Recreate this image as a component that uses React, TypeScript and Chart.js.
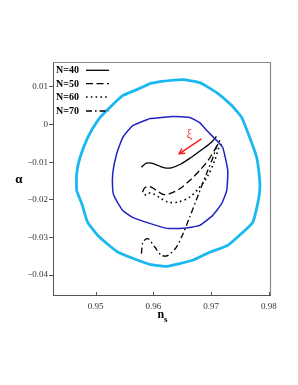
import React, { useEffect, useRef } from "react";
import { Chart, registerables } from "chart.js";

Chart.register(...registerables);

// ---- data ----
const xTicks = [0.95, 0.96, 0.97, 0.98];
const xTickLabels = ["0.95", "0.96", "0.97", "0.98"];
const yTicks = [0.01, 0, -0.01, -0.02, -0.03, -0.04];
const yTickLabels = ["0.01", "0", "\u22120.01", "\u22120.02", "\u22120.03", "\u22120.04"];

const outerNs = [0.95936, 0.96109, 0.96508, 0.96802, 0.97097, 0.97357, 0.9753, 0.97669, 0.9779, 0.97842, 0.97842, 0.97808, 0.97721, 0.9753, 0.97288, 0.96976, 0.96681, 0.96231, 0.95936, 0.95641, 0.95364, 0.95069, 0.94861, 0.94757, 0.94671, 0.94671, 0.94723, 0.94861, 0.95035, 0.95191, 0.95468, 0.95711, 0.95936];
const outerAlpha = [0.01088, 0.01141, 0.01194, 0.01114, 0.00849, 0.00504, 0.00186, -0.00345, -0.00875, -0.01485, -0.01751, -0.02095, -0.02599, -0.02891, -0.0321, -0.03395, -0.03607, -0.03767, -0.03714, -0.03554, -0.03369, -0.02997, -0.02599, -0.02095, -0.01751, -0.013, -0.00902, -0.00345, 0.00106, 0.00371, 0.00769, 0.00928, 0.01088];

const innerNs = [0.95936, 0.96334, 0.96629, 0.96802, 0.96924, 0.97097, 0.97201, 0.97288, 0.9727, 0.97184, 0.97028, 0.96802, 0.96508, 0.96231, 0.95936, 0.95641, 0.95468, 0.95329, 0.95295, 0.95295, 0.95364, 0.95468, 0.95641, 0.95936];
const innerAlpha = [0.00159, 0.00212, 0.00186, 0.00053, -0.00159, -0.00424, -0.0061, -0.0122, -0.01751, -0.02095, -0.02414, -0.02679, -0.02759, -0.02759, -0.02626, -0.02467, -0.02281, -0.01936, -0.01751, -0.013, -0.00769, -0.00345, -0.00027, 0.00159];

const n40Ns = [0.95792, 0.95879, 0.95965, 0.9608, 0.96196, 0.96312, 0.96485, 0.96659, 0.9686, 0.97005, 0.97092];
const n40Alpha = [-0.01133, -0.01027, -0.01027, -0.01088, -0.01149, -0.01149, -0.01042, -0.00867, -0.00645, -0.00469, -0.00318];

const n50Ns = [0.95809, 0.95849, 0.95936, 0.96052, 0.96166, 0.96282, 0.96456, 0.96629, 0.96802, 0.96946, 0.97062, 0.97149];
const n50Alpha = [-0.01796, -0.01679, -0.01645, -0.01751, -0.01857, -0.01838, -0.01706, -0.01485, -0.0122, -0.00955, -0.00671, -0.00424];

const n60Ns = [0.95849, 0.95906, 0.95993, 0.96109, 0.96253, 0.96426, 0.96629, 0.96802, 0.96946, 0.97062, 0.97137, 0.97178];
const n60Alpha = [-0.01883, -0.01822, -0.01838, -0.01944, -0.02061, -0.02061, -0.01928, -0.01663, -0.01353, -0.00955, -0.00602, -0.00512];

const n70Ns = [0.95792, 0.9582, 0.95906, 0.96023, 0.96139, 0.96253, 0.96399, 0.96513, 0.96629, 0.96773, 0.96919, 0.97033, 0.97092, 0.97149];
const n70Alpha = [-0.0343, -0.03122, -0.03032, -0.03255, -0.03475, -0.03475, -0.03255, -0.02899, -0.02459, -0.01883, -0.01308, -0.00867, -0.00602, -0.00424];

const seriesLabels = ["N=40", "N=50", "N=60", "N=70"];
const seriesDashes: number[][] = [[], [7, 3.5], [1.6, 3.2], [6, 3, 1.6, 3]];

const arrowFrom = { x: 0.96832, y: -0.0038 };
const arrowTo = { x: 0.96444, y: -0.00777 };
const arrowLabel = "\u03BE";

const toPts = (xs: number[], ys: number[]) => xs.map((x, i) => ({ x, y: ys[i] }));

const SERIF = "'Liberation Serif', 'Times New Roman', serif";

export default function App() {
  const ref = useRef<HTMLCanvasElement | null>(null);

  useEffect(() => {
    const canvas = ref.current;
    if (!canvas) return;

    const framePlugin = {
      id: "frame",
      beforeDatasetsDraw(chart: any) {
        const { ctx, chartArea: a, scales } = chart;
        ctx.save();
        ctx.strokeStyle = "#8a8a8a";
        ctx.lineWidth = 1.2;
        ctx.beginPath();
        ctx.moveTo(a.left, a.top + 0.5);
        ctx.lineTo(a.right + 0.5, a.top + 0.5);
        ctx.lineTo(a.right + 0.5, a.bottom);
        ctx.stroke();
        // inward x tick marks
        ctx.strokeStyle = "#555";
        ctx.lineWidth = 1;
        ctx.beginPath();
        scales.x.ticks.forEach((t: any) => {
          const px = Math.round(scales.x.getPixelForValue(t.value)) + 0.5;
          ctx.moveTo(px, a.bottom);
          ctx.lineTo(px, a.bottom - 3);
        });
        ctx.stroke();
        ctx.restore();
      },
    };

    const extrasPlugin = {
      id: "extras",
      afterDatasetsDraw(chart: any) {
        const { ctx, chartArea: a, scales } = chart;
        const sx = scales.x, sy = scales.y;
        ctx.save();
        // legend
        const rows = [8.3, 21.6, 35, 49];
        ctx.font = `bold 10px ${SERIF}`;
        ctx.fillStyle = "#000";
        ctx.textBaseline = "middle";
        ctx.textAlign = "left";
        seriesLabels.forEach((lab, i) => {
          const y = a.top + rows[i];
          ctx.fillText(lab, a.left + 3, y + 0.5);
          ctx.beginPath();
          ctx.setLineDash(seriesDashes[i]);
          ctx.strokeStyle = "#000";
          ctx.lineWidth = i === 2 ? 1.6 : 1.3;
          ctx.moveTo(a.left + 33, y);
          ctx.lineTo(a.left + 56, y);
          ctx.stroke();
        });
        ctx.setLineDash([]);
        // arrow
        const x1 = sx.getPixelForValue(arrowFrom.x), y1 = sy.getPixelForValue(arrowFrom.y);
        const x2 = sx.getPixelForValue(arrowTo.x), y2 = sy.getPixelForValue(arrowTo.y);
        ctx.strokeStyle = "#ff1a1a";
        ctx.lineWidth = 1.4;
        ctx.beginPath();
        ctx.moveTo(x1, y1);
        ctx.lineTo(x2, y2);
        const ang = Math.atan2(y2 - y1, x2 - x1);
        const hl = 6;
        ctx.moveTo(x2 - hl * Math.cos(ang - 0.5), y2 - hl * Math.sin(ang - 0.5));
        ctx.lineTo(x2, y2);
        ctx.lineTo(x2 - hl * Math.cos(ang + 0.5), y2 - hl * Math.sin(ang + 0.5));
        ctx.stroke();
        ctx.fillStyle = "#ff1a1a";
        ctx.font = `12px ${SERIF}`;
        ctx.textAlign = "center";
        ctx.fillText(arrowLabel, x1 - 12, y1 - 4);
        // axis titles
        ctx.fillStyle = "#000";
        ctx.font = `bold 13px ${SERIF}`;
        ctx.textAlign = "center";
        ctx.fillText("\u03B1", 19, 180);
        ctx.font = `bold 12px ${SERIF}`;
        ctx.textAlign = "left";
        ctx.fillText("n", 157.5, 315);
        ctx.font = `bold 9px ${SERIF}`;
        ctx.fillText("s", 164, 320);
        ctx.restore();
      },
    };

    const chart = new Chart(canvas, {
      type: "scatter",
      data: {
        datasets: [
          { data: toPts(outerNs, outerAlpha), showLine: true, borderColor: "#1ab8f0", borderWidth: 2.8, pointRadius: 0, tension: 0.15 },
          { data: toPts(innerNs, innerAlpha), showLine: true, borderColor: "#2222c4", borderWidth: 1.5, pointRadius: 0, tension: 0.15 },
          { data: toPts(n40Ns, n40Alpha), showLine: true, borderColor: "#000", borderWidth: 1.3, pointRadius: 0, tension: 0.3, borderDash: seriesDashes[0] },
          { data: toPts(n50Ns, n50Alpha), showLine: true, borderColor: "#000", borderWidth: 1.3, pointRadius: 0, tension: 0.3, borderDash: seriesDashes[1] },
          { data: toPts(n60Ns, n60Alpha), showLine: true, borderColor: "#000", borderWidth: 1.6, pointRadius: 0, tension: 0.3, borderDash: seriesDashes[2] },
          { data: toPts(n70Ns, n70Alpha), showLine: true, borderColor: "#000", borderWidth: 1.3, pointRadius: 0, tension: 0.3, borderDash: seriesDashes[3] },
        ],
      },
      options: {
        responsive: false,
        animation: false,
        devicePixelRatio: 1,
        layout: { padding: { top: 62, right: 28, left: 0, bottom: 0 } },
        plugins: { legend: { display: false }, tooltip: { enabled: false } },
        scales: {
          x: {
            type: "linear",
            min: 0.9426,
            max: 0.9802,
            afterBuildTicks: (s: any) => { s.ticks = xTicks.map((v) => ({ value: v })); },
            afterFit: (s: any) => { s.height = 90; },
            ticks: {
              autoSkip: false,
              maxRotation: 0,
              padding: 6,
              color: "#333",
              font: { family: SERIF, size: 9 },
              callback: (v: any) => {
                const i = xTicks.findIndex((t) => Math.abs(t - v) < 1e-6);
                return i >= 0 ? xTickLabels[i] : "";
              },
            },
            grid: { drawOnChartArea: false, drawTicks: false, color: "#555" },
            border: { display: true, color: "#555", width: 1 },
          },
          y: {
            type: "linear",
            min: -0.0453,
            max: 0.01663,
            afterBuildTicks: (s: any) => { s.ticks = yTicks.map((v) => ({ value: v })); },
            afterFit: (s: any) => { s.width = 53; },
            ticks: {
              autoSkip: false,
              padding: 1,
              color: "#333",
              font: { family: SERIF, size: 9 },
              callback: (v: any) => {
                const i = yTicks.findIndex((t) => Math.abs(t - v) < 1e-6);
                return i >= 0 ? yTickLabels[i] : "";
              },
            },
            grid: { drawOnChartArea: false, drawTicks: true, tickLength: 4, color: "#555" },
            border: { display: true, color: "#555", width: 1 },
          },
        },
      } as any,
      plugins: [framePlugin, extrasPlugin],
    });
    return () => chart.destroy();
  }, []);

  return (
    <div style={{ position: "fixed", left: 0, top: 0, width: 298, height: 385, background: "#fff" }}>
      <canvas ref={ref} width={298} height={385} style={{ display: "block", width: 298, height: 385 }} />
    </div>
  );
}
